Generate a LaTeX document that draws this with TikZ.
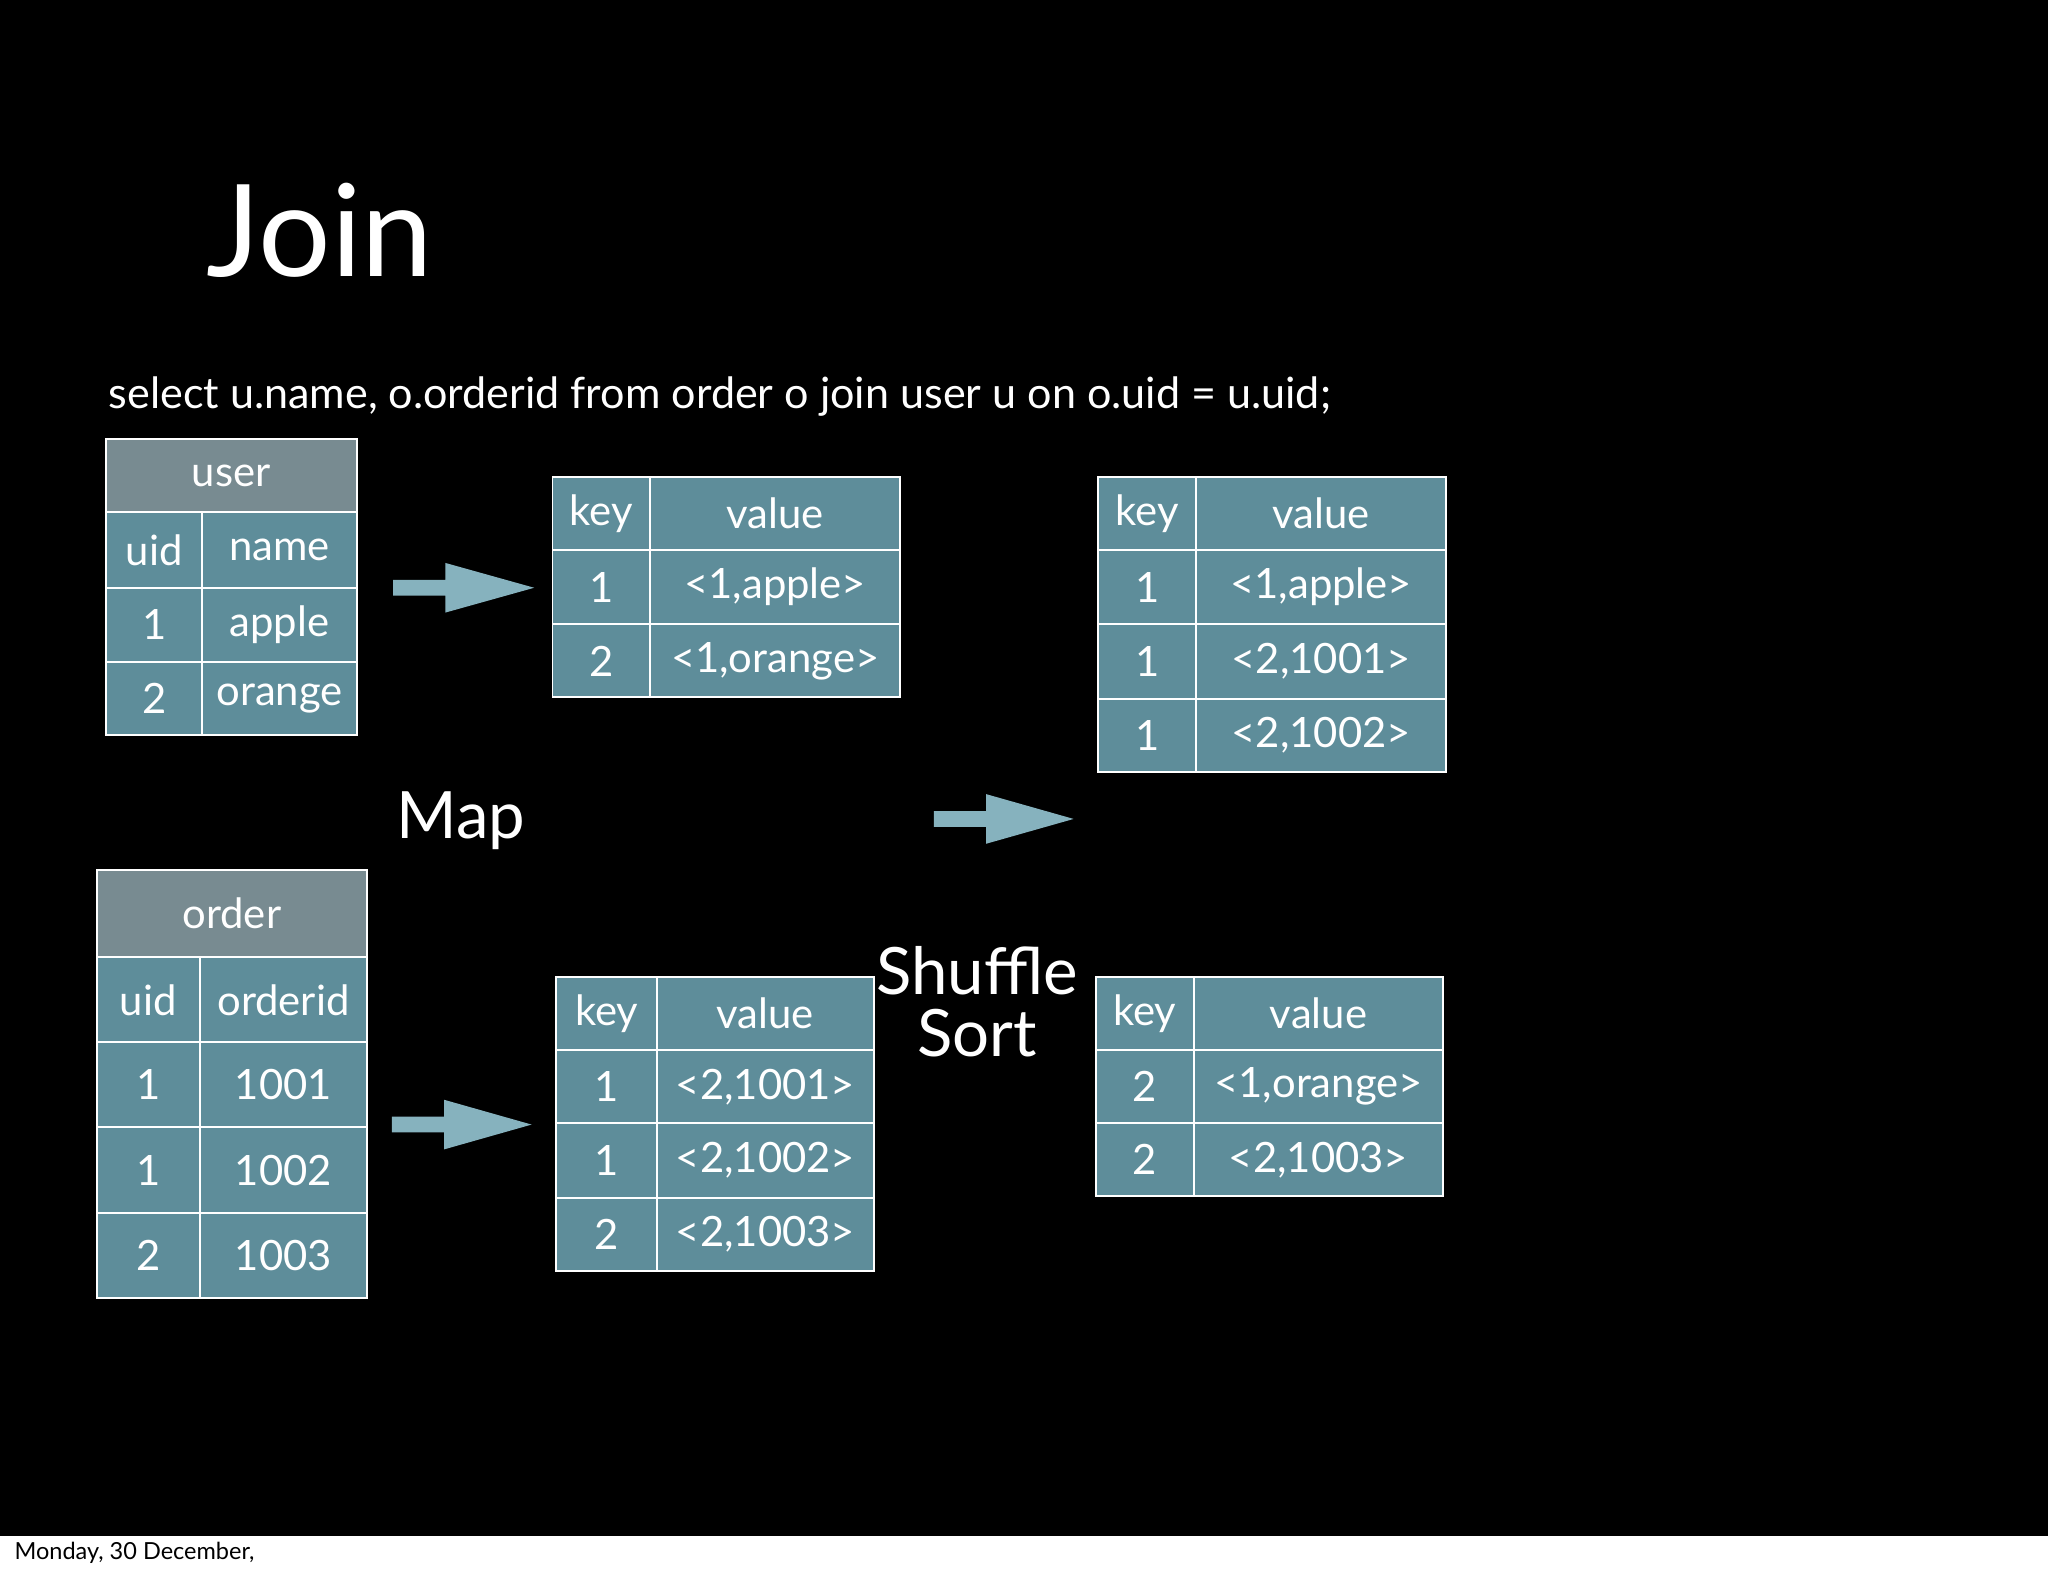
\documentclass[tikz,border=0pt]{standalone}
\usepackage{fontspec}
\setmainfont{Lato}
\definecolor{cellc}{HTML}{5E8D9A}
\definecolor{headc}{HTML}{788B91}
\definecolor{arrc}{HTML}{86B2BE}
\newcommand{\tcell}[7]{%
  \pgfmathsetmacro\cw{#4-#2}\pgfmathsetmacro\ch{#5-#3}%
  \node[cellbox, fill=#7, minimum width=\cw pt, minimum height=\ch pt] (#1) at ({(#2+#4)/2},{(#3+#5)/2}) {#6};}
\newcommand{\bigarrow}[4]{%
  \fill[arrc] (#2,#4-6) -- (#2+40,#4-6) -- (#2+40,#4-19) -- (#3,#4) -- (#2+40,#4+19) -- (#2+40,#4+6) -- (#2,#4+6) -- cycle;
  \coordinate (#1) at (#3,#4);}
\tikzset{cellbox/.style={draw=white, line width=1.5pt, text=white, inner sep=0pt, font=\fontsize{32}{36}\selectfont},
  lbl/.style={text=white, inner sep=0pt}}
\begin{document}
\begin{tikzpicture}[x=1pt,y=-1pt]
\useasboundingbox (0,0) rectangle (1568,1206);
\fill[white] (0,0) rectangle (1568,1206);
\fill[black] (0,0) rectangle (1568,1176);
\node[lbl, anchor=base west, font=\fontsize{98}{100}\selectfont] (title) at (158,212) {Join};
\node[lbl, anchor=base west, font=\fontsize{33}{36}\selectfont] (sql) at (83,313) {select u.name, o.orderid from order o join user u on o.uid = u.uid;};
% user table
\tcell{uh}{81}{336}{273}{392}{user}{headc}
\tcell{u11}{81}{392}{155}{450}{uid}{cellc}\tcell{u12}{155}{392}{273}{450}{name}{cellc}
\tcell{u21}{81}{450}{155}{507}{1}{cellc}\tcell{u22}{155}{450}{273}{507}{apple}{cellc}
\tcell{u31}{81}{507}{155}{563}{2}{cellc}\tcell{u32}{155}{507}{273}{563}{orange}{cellc}
% map output user
\tcell{a11}{423}{365}{498}{421}{key}{cellc}\tcell{a12}{498}{365}{689}{421}{value}{cellc}
\tcell{a21}{423}{421}{498}{478}{1}{cellc}\tcell{a22}{498}{421}{689}{478}{<1,apple>}{cellc}
\tcell{a31}{423}{478}{498}{534}{2}{cellc}\tcell{a32}{498}{478}{689}{534}{<1,orange>}{cellc}
% reducer 1
\tcell{r11}{841}{365}{916}{421}{key}{cellc}\tcell{r12}{916}{365}{1107}{421}{value}{cellc}
\tcell{r21}{841}{421}{916}{478}{1}{cellc}\tcell{r22}{916}{421}{1107}{478}{<1,apple>}{cellc}
\tcell{r31}{841}{478}{916}{535}{1}{cellc}\tcell{r32}{916}{478}{1107}{535}{<2,1001>}{cellc}
\tcell{r41}{841}{535}{916}{591}{1}{cellc}\tcell{r42}{916}{535}{1107}{591}{<2,1002>}{cellc}
% order table
\tcell{oh}{74}{666}{281}{733}{order}{headc}
\tcell{o11}{74}{733}{153}{798}{uid}{cellc}\tcell{o12}{153}{733}{281}{798}{orderid}{cellc}
\tcell{o21}{74}{798}{153}{863}{1}{cellc}\tcell{o22}{153}{798}{281}{863}{1001}{cellc}
\tcell{o31}{74}{863}{153}{929}{1}{cellc}\tcell{o32}{153}{863}{281}{929}{1002}{cellc}
\tcell{o41}{74}{929}{153}{994}{2}{cellc}\tcell{o42}{153}{929}{281}{994}{1003}{cellc}
% map output order
\tcell{b11}{426}{748}{503}{804}{key}{cellc}\tcell{b12}{503}{748}{669}{804}{value}{cellc}
\tcell{b21}{426}{804}{503}{860}{1}{cellc}\tcell{b22}{503}{804}{669}{860}{<2,1001>}{cellc}
\tcell{b31}{426}{860}{503}{917}{1}{cellc}\tcell{b32}{503}{860}{669}{917}{<2,1002>}{cellc}
\tcell{b41}{426}{917}{503}{973}{2}{cellc}\tcell{b42}{503}{917}{669}{973}{<2,1003>}{cellc}
% reducer 2
\tcell{s11}{839}{748}{914}{804}{key}{cellc}\tcell{s12}{914}{748}{1105}{804}{value}{cellc}
\tcell{s21}{839}{804}{914}{860}{2}{cellc}\tcell{s22}{914}{804}{1105}{860}{<1,orange>}{cellc}
\tcell{s31}{839}{860}{914}{916}{2}{cellc}\tcell{s32}{914}{860}{1105}{916}{<2,1003>}{cellc}
% arrows
\bigarrow{ar1}{301}{409}{450}
\bigarrow{ar2}{715}{822}{627}
\bigarrow{ar3}{300}{407}{861}
\node[lbl, font=\fontsize{50}{54}\selectfont] (map) at (353,628) {Map};
\node[lbl, font=\fontsize{50}{54}\selectfont, align=center] (shuf) at (748,767) {Shuffle\\[-6pt]Sort};
\node[anchor=base west, inner sep=0pt, font=\fontsize{18}{20}\selectfont] (foot) at (11,1194) {Monday, 30 December,};
\end{tikzpicture}
\end{document}
